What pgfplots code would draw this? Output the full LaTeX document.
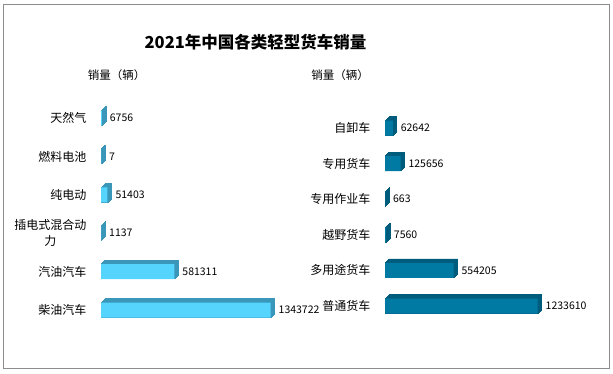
\documentclass[border=0pt]{standalone}
\usepackage{pgfplots}
\pgfplotsset{compat=1.18}
\usepackage{pgfplotstable}
\usepackage{fontspec}
\setmainfont{Noto Sans CJK SC}
\definecolor{lfront}{HTML}{55D4FE}
\definecolor{ldark}{HTML}{3A97BA}
\definecolor{rfront}{HTML}{0079A3}
\definecolor{rdark}{HTML}{005C7D}
\definecolor{frame}{HTML}{8C8C8C}
\pgfplotstableread{
y v
0 6756
1 7
2 51403
3 1137
4 581311
5 1343722
}\lefttab
\pgfplotstableread{
y v
0 62642
1 125656
2 663
3 7560
4 554205
5 1233610
}\righttab
\pgfplotsset{
  barpanel/.style={
    scale only axis, clip=false,
    xmin=0, xmax=1.6e6,
    ymin=-0.5, ymax=5.5, y dir=reverse,
    axis line style={draw=none},
    major tick length=0pt,
    xtick=\empty, ytick={0,1,2,3,4,5},
    yticklabel style={font=\fontsize{12}{16}\selectfont, align=center},
    yticklabel shift=11pt,
    /pgf/number format/fixed,
    /pgf/number format/1000 sep={},
    /pgf/number format/assume math mode=true,
    point meta=x,
    nodes near coords style={font=\fontsize{10.5}{12}\selectfont, anchor=west, xshift=4.5pt, text=black},
  }
}
\begin{document}
\begin{tikzpicture}[x=1pt,y=1pt]
\useasboundingbox (0,0) rectangle (613,373);
\draw[frame, line width=0.8pt] (3,5) rectangle (609,369);
\node[font=\bfseries\fontsize{16.5}{19}\selectfont] at (255.5,331) {2021年中国各类轻型货车销量};
\node[font=\fontsize{11.5}{13}\selectfont] at (116.5,298) {销量（辆）};
\node[font=\fontsize{11.5}{13}\selectfont] at (340,298) {销量（辆）};
\begin{axis}[barpanel, at={(101pt,43.8pt)}, anchor=south west,
  width=202pt, height=230.4pt,
  yticklabels={天然气,燃料电池,纯电动,{插电式混合动\\力},汽油汽车,柴油汽车}]
\pgfplotsinvokeforeach{0.5,1,1.5,2,2.5,3,3.5,4}{
  \addplot[xbar, bar width=15pt, draw=ldark, line width=0.6pt, fill=ldark, xshift=#1pt, yshift=#1pt, forget plot] table[x=v,y=y]{\lefttab};
}
\addplot[xbar, bar width=15pt, draw=none, fill=lfront, nodes near coords] table[x=v,y=y]{\lefttab};
\end{axis}
\begin{axis}[barpanel, at={(385pt,49.2pt)}, anchor=south west,
  width=198pt, height=213.6pt,
  yticklabels={自卸车,专用货车,专用作业车,越野货车,多用途货车,普通货车}]
\pgfplotsinvokeforeach{0.5,1,1.5,2,2.5,3,3.5,4}{
  \addplot[xbar, bar width=15pt, draw=rdark, line width=0.6pt, fill=rdark, xshift=#1pt, yshift=#1pt, forget plot] table[x=v,y=y]{\righttab};
}
\addplot[xbar, bar width=15pt, draw=none, fill=rfront, nodes near coords] table[x=v,y=y]{\righttab};
\end{axis}
\end{tikzpicture}
\end{document}
